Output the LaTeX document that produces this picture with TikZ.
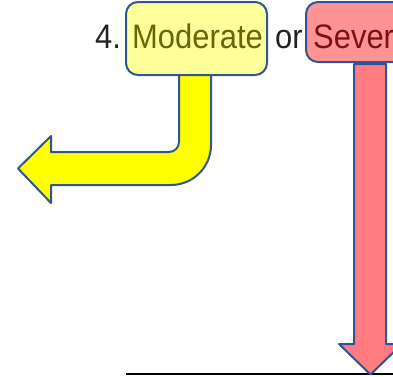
\documentclass[tikz,border=0pt]{standalone}
\usepackage{fontspec}
\usepackage{graphicx}
\setmainfont{Liberation Sans}
\definecolor{edgeblue}{HTML}{2F5597}
\definecolor{modfill}{HTML}{FFFF99}
\definecolor{sevfill}{HTML}{FF9393}
\definecolor{yarrow}{HTML}{FFFF00}
\definecolor{rarrow}{HTML}{FF7C80}
\definecolor{modtext}{HTML}{66660A}
\definecolor{sevtext}{HTML}{7A1414}
\definecolor{plaintext}{HTML}{222222}
\newcommand{\narrowtext}[1]{\scalebox{0.91}[1]{#1}}
\tikzset{
  labelbox/.style={draw=edgeblue, line width=2pt, rounded corners=12pt},
  bigtext/.style={font=\fontsize{34}{40}\selectfont, inner sep=0pt, anchor=base west},
  arrowshape/.style={draw=edgeblue, line width=2pt, line join=round},
}
\begin{document}
\begin{tikzpicture}[x=1pt,y=-1pt]
\useasboundingbox (0,0) rectangle (393,376);
\clip (0,0) rectangle (393,376);
% boxes
\draw[labelbox, fill=modfill] (126,2) rectangle (267,75);
\draw[labelbox, fill=sevfill] (306,2) rectangle (430,62);
% texts
\node[bigtext, text=plaintext] (num) at (95,48) {\narrowtext{4.}};
\node[bigtext, text=modtext] (moderate) at (132,48) {\narrowtext{Moderate}};
\node[bigtext, text=plaintext] (or) at (275,48) {\narrowtext{or}};
\node[bigtext, text=sevtext] (severe) at (313,48) {\narrowtext{Severe}};
% bottom line
\draw[line width=2pt, black] (126,373.5) -- (410,373.5);
% yellow bent arrow
\draw[arrowshape, fill=yarrow]
  (179,75) -- (179,142) .. controls (179,147.5) and (174.5,152) .. (169,152)
  -- (51,152) -- (51,136) -- (18,168.5) -- (51,203) -- (51,185)
  -- (171,185) .. controls (193.1,185) and (211,167.1) .. (211,145)
  -- (211,75) -- cycle;
% red down arrow
\draw[arrowshape, fill=rarrow]
  (354,64) -- (354,344) -- (339,344) -- (370.5,374.5) -- (402,344)
  -- (386,344) -- (386,64) -- cycle;
\end{tikzpicture}
\end{document}
